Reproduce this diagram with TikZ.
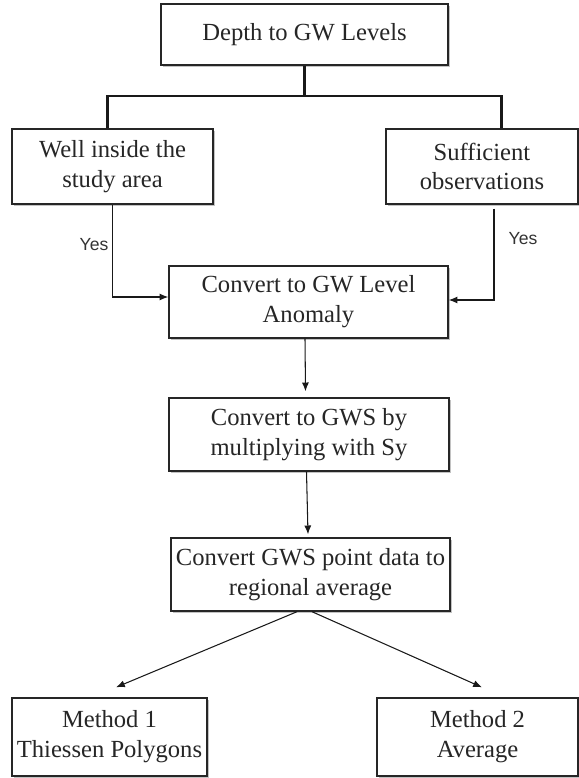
\documentclass[tikz,border=0pt]{standalone}
\usepackage{fontspec}
\setmainfont{Liberation Serif}
\newfontfamily\yesfont{Liberation Sans}
\usepackage{tikz}
\usetikzlibrary{arrows.meta,shadows}

\begin{document}
\begin{tikzpicture}[
   box/.style={draw=black!85, line width=0.8pt, fill=white, align=center, inner sep=2pt,
      font=\fontsize{14}{17}\selectfont, text=black!85,
      drop shadow={shadow xshift=1.2pt, shadow yshift=-1.2pt, fill=black!40, opacity=0.6}},
   branch/.style={line width=1.7pt, draw=black!90},
   arr/.style={line width=0.6pt, draw=black!90, -{Latex[length=5pt,width=4pt]}},
   yes/.style={font=\yesfont\fontsize{10}{12}\selectfont, text=black!80, inner sep=0pt}
 ]
   \useasboundingbox (0,0) rectangle (11.58,-15.56);

   % boxes
   \node[box, minimum width=5.74cm, minimum height=1.22cm] (top) at (6.09,-0.69) {Depth to GW Levels};
   \node[box, minimum width=4.02cm, minimum height=1.5cm] (well) at (2.25,-3.33) {Well inside the\\study area};
   \node[box, minimum width=3.84cm, minimum height=1.5cm] (suff) at (9.64,-3.33) {Sufficient\\observations};
   \node[box, minimum width=5.58cm, minimum height=1.44cm] (anom) at (6.17,-6.04) {Convert to GW Level\\Anomaly};
   \node[box, minimum width=5.6cm, minimum height=1.46cm] (gws) at (6.18,-8.69) {Convert to GWS by\\multiplying with Sy};
   \node[box, minimum width=5.58cm, minimum height=1.46cm] (reg) at (6.21,-11.49) {Convert GWS point data to\\regional average};
   \node[box, minimum width=3.9cm, minimum height=1.56cm] (m1) at (2.19,-14.74) {Method 1\\Thiessen Polygons};
   \node[box, minimum width=4.02cm, minimum height=1.56cm] (m2) at (9.55,-14.74) {Method 2\\Average};

   % branching from the top box
   \coordinate (brL) at (2.15,-1.92);
   \coordinate (brR) at (10.02,-1.92);
   \draw[branch] (top.south) -- (top.south |- brL);
   \draw[branch] (well.north -| brL) -- (brL) -- (brR) -- (suff.north -| brR);

   % yes paths
   \draw[arr] (well.south) |- ([yshift=0.1cm]anom.west);
   \draw[arr] ([xshift=0.24cm,yshift=-0.08cm]suff.south) |- ([yshift=0.04cm]anom.east);
   \node[yes] (yesL) at (1.88,-4.9) {Yes};
   \node[yes] (yesR) at (10.46,-4.78) {Yes};

   % down the chain
   \draw[arr] ([xshift=-0.07cm]anom.south) -- ([xshift=-0.07cm,yshift=0.12cm]gws.north);
   \draw[arr] ([xshift=-0.05cm]gws.south) -- ([xshift=-0.05cm,yshift=0.06cm]reg.north);

   % the two methods
   \draw[arr] ([xshift=-0.27cm]reg.south) -- ([xshift=0.13cm,yshift=0.2cm]m1.north);
   \draw[arr] ([xshift=0.03cm]reg.south) -- ([xshift=0.09cm,yshift=0.2cm]m2.north);
\end{tikzpicture}
\end{document}
